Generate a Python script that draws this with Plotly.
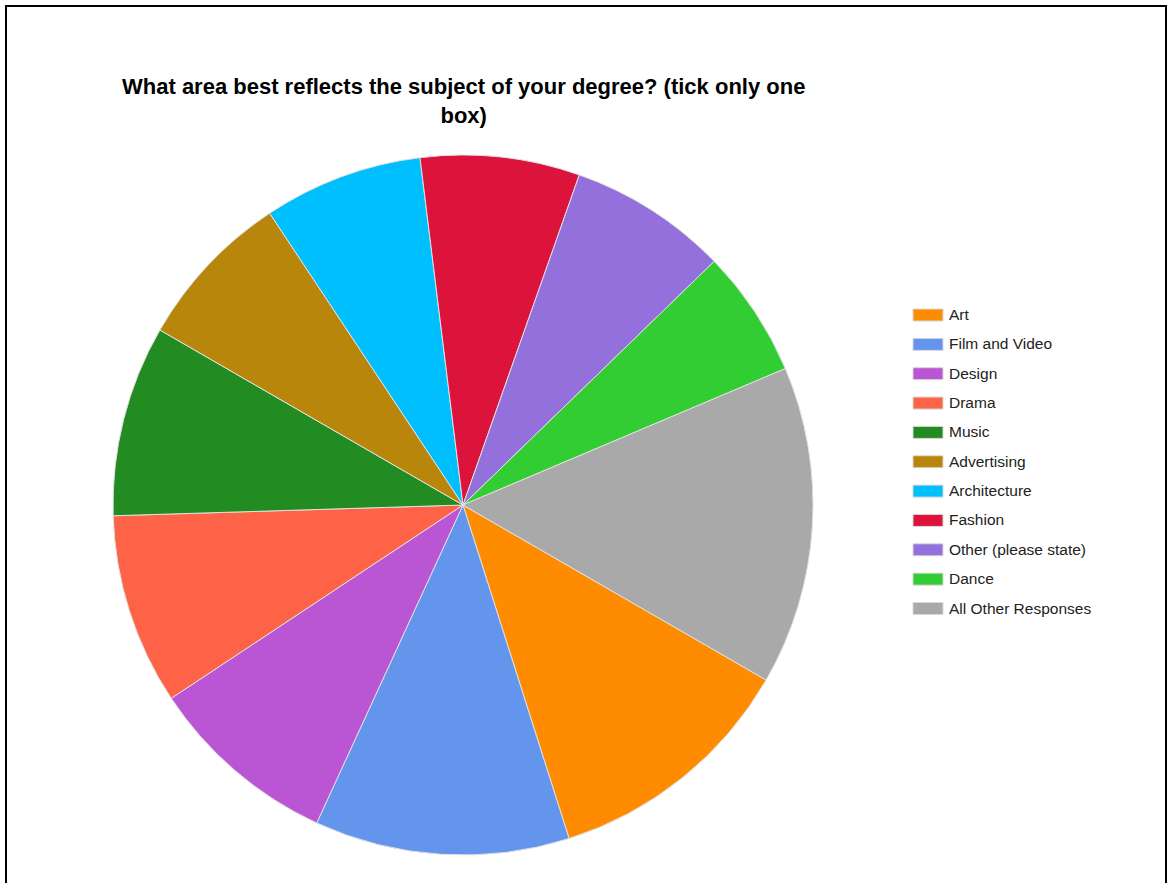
import plotly.graph_objects as go

labels = ["Art", "Film and Video", "Design", "Drama", "Music", "Advertising",
          "Architecture", "Fashion", "Other (please state)", "Dance", "All Other Responses"]
values = [8, 8, 6, 6, 6, 5, 5, 5, 5, 4, 10]
colors = ["#FF8C00", "#6495ED", "#BA55D3", "#FF6347", "#228B22", "#B8860B",
          "#00BFFF", "#DC143C", "#9370DB", "#32CD32", "#A9A9A9"]
title_text = "What area best reflects the subject of your degree? (tick only one<br>box)"

W, H = 1168, 883
cx, cy, R = 463, 505, 350

fig = go.Figure(go.Pie(
    labels=labels, values=values, sort=False, direction="clockwise", rotation=120,
    marker=dict(colors=colors, line=dict(color="#e0e0e0", width=1)),
    textinfo="none", hoverinfo="label+value+percent", showlegend=False,
    domain=dict(x=[(cx - R) / W, (cx + R) / W], y=[1 - (cy + R) / H, 1 - (cy - R) / H]),
))

shapes = [dict(type="rect", xref="paper", yref="paper",
               x0=6 / W, x1=1166 / W, y0=-0.05, y1=1 - 6 / H,
               line=dict(color="black", width=2), fillcolor="rgba(0,0,0,0)", layer="above")]
annotations = []
y_start, step = 315, 29.35
for i, (lab, col) in enumerate(zip(labels, colors)):
    yc = y_start + i * step
    shapes.append(dict(type="rect", xref="paper", yref="paper",
                       x0=913 / W, x1=943 / W, y0=1 - (yc + 6) / H, y1=1 - (yc - 6) / H,
                       fillcolor=col, line=dict(color="#d8d8d8", width=1)))
    annotations.append(dict(text=lab, xref="paper", yref="paper", x=947 / W, y=1 - (yc - 0.5) / H,
                            xanchor="left", yanchor="middle", showarrow=False,
                            font=dict(family="Liberation Sans, Arial, sans-serif", size=15.5, color="#222")))

annotations.append(dict(text="<b>" + title_text + "</b>", xref="paper", yref="paper",
                        x=463 / W, y=1 - 101 / H, xanchor="center", yanchor="middle",
                        showarrow=False, align="center",
                        font=dict(family="Liberation Sans, Arial, sans-serif", size=22, color="black")))

fig.update_layout(width=W, height=H, margin=dict(l=0, r=0, t=0, b=0),
                  paper_bgcolor="white", plot_bgcolor="white",
                  shapes=shapes, annotations=annotations)
fig.write_html("out.html")
